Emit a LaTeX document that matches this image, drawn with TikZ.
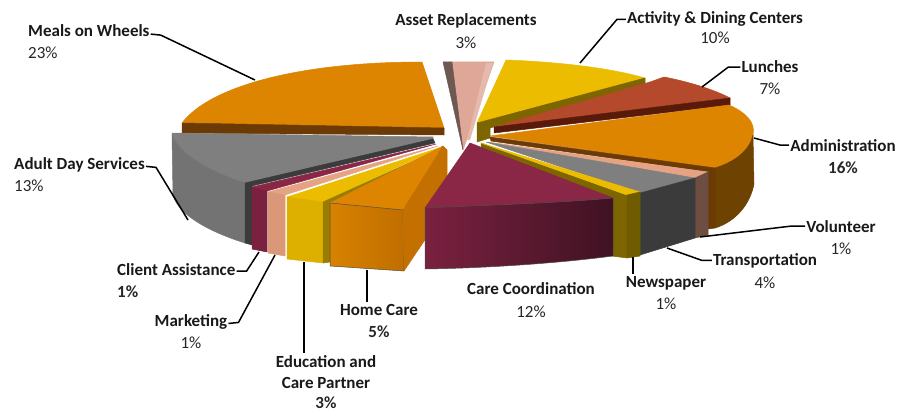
\documentclass[tikz,border=0pt]{standalone}
\usepackage{fontspec}
\setmainfont{Carlito}
\usetikzlibrary{positioning}

\definecolor{orTop}{HTML}{DD8400}
\definecolor{orCut}{HTML}{6B3A05}
\definecolor{orSide}{HTML}{6E4200}
\definecolor{grTop}{HTML}{7F7F7F}
\definecolor{grSide}{HTML}{737373}
\definecolor{grCut}{HTML}{3B3B3B}
\definecolor{mrTop}{HTML}{8A2747}
\definecolor{mrFront}{HTML}{7A2140}
\definecolor{mrDark}{HTML}{3F1222}
\definecolor{pkTop}{HTML}{DFA797}
\definecolor{pkSide}{HTML}{6D5852}
\definecolor{ylTop}{HTML}{ECBC00}
\definecolor{ylFront}{HTML}{DDB000}
\definecolor{olive}{HTML}{7D6600}
\definecolor{rsTop}{HTML}{B44A2B}
\definecolor{rsCut}{HTML}{5A1A0A}
\definecolor{smTop}{HTML}{E6A384}
\definecolor{smFront}{HTML}{DA9878}
\definecolor{brFront}{HTML}{6E4E40}
\definecolor{hcFront}{HTML}{D88200}
\definecolor{hcDark}{HTML}{C06E00}

\tikzset{
  face/.style={draw=black!70, line width=0.5pt, line join=round},
  lbl/.style={font=\fontsize{17}{20}\selectfont\bfseries, inner sep=0pt, text=black!90},
  pct/.style={font=\fontsize{17}{20}\selectfont, inner sep=0pt, text=black!85},
  pctb/.style={pct, font=\fontsize{17}{20}\selectfont\bfseries},
  leader/.style={draw=black, line width=1.5pt},
}

\begin{document}
\begin{tikzpicture}[x=1pt,y=-1pt]
\fill[white] (0,0) rectangle (897,412);
\useasboundingbox (0,0) rectangle (897,412);

% back slices
\fill[face, orTop] (182,123) .. controls (210,86) and (300,62) .. (422,62) -- (444,128) -- cycle;
\fill[face, orCut] (182,123) -- (444,128) -- (444,135) -- (182,133) -- cycle;
\fill[face, pkTop] (452,62) -- (494,62) -- (463,150) -- cycle;
\fill[face, pkSide] (443,62) -- (452,62) -- (463,150) -- cycle;
\fill[pkTop!80!white] (486,63) -- (493,63) -- (470,140) -- (467,140) -- cycle;
\fill[face, ylTop] (477,123) -- (506,60) .. controls (560,62) and (610,68) .. (645,78) -- cycle;
\fill[face, olive] (477,123) -- (645,78) -- (645,86) -- (490,128) -- (490,138) -- (477,142) -- cycle;
\fill[face, rsTop] (494,127) -- (650,82) -- (664,77) .. controls (690,82) and (715,90) .. (730,98) -- cycle;
\fill[face, rsCut] (494,127) -- (730,98) -- (730,105) -- (494,133) -- cycle;
\fill[face, orTop] (490,136) -- (729,105) .. controls (745,112) and (756,122) .. (753,135)
  .. controls (750,150) and (735,162) .. (715,168) -- cycle;
\fill[face, orSide] (715,168) .. controls (735,162) and (750,150) .. (753,135) -- (754,184)
  .. controls (750,205) and (735,222) .. (715,228) -- cycle;
\fill[face, orCut] (490,137) -- (715,168) -- (715,228) -- (708,229) -- (708,172) -- (491,141) -- cycle;
\fill[face, smTop] (488,142) -- (708,172) -- (695,178) -- cycle;
\fill[face, brFront] (695,178) -- (708,172) -- (708,235) -- (695,238) -- cycle;
\fill[face, grTop] (486,142) -- (695,178) -- (640,193) -- cycle;
\fill[face, grCut] (640,193) -- (695,178) -- (695,238) -- (640,255) -- cycle;
\fill[face, olive] (481,143) -- (627,195) -- (627,258) -- (612,256) -- (612,198) -- (481,148) -- cycle;
\fill[face, ylTop] (481,143) -- (640,192) -- (627,195) -- cycle;
\fill[face, olive!90!black] (627,195) -- (640,192) -- (640,256) -- (627,258) -- cycle;

% left group
\fill[face, grTop] (172,133) -- (433,137) -- (433,140) -- (245,183) .. controls (210,172) and (180,155) .. (172,135) -- cycle;
\fill[face, grSide] (172,135) .. controls (180,155) and (210,172) .. (245,183) -- (245,243)
  .. controls (210,232) and (178,215) .. (173,195) -- cycle;
\fill[face, grCut] (245,183) -- (433,139) -- (435,143) -- (252,186) -- (252,245) -- (245,243) -- cycle;
\fill[face, mrTop] (252,187) -- (436,144) -- (267,191) -- cycle;
\fill[face, mrFront] (252,187) -- (267,191) -- (267,252) -- (252,249) -- cycle;
\fill[face, smTop] (268,192) -- (438,146) -- (285,195) -- cycle;
\fill[face, smFront] (268,192) -- (285,195) -- (285,256) -- (268,253) -- cycle;
\fill[face, ylTop] (287,197) -- (439,148) -- (323,202) -- cycle;
\fill[face, ylFront] (287,197) -- (323,202) -- (323,263) -- (287,259) -- cycle;
\fill[face, olive!70!ylFront] (323,202) -- (440,149) -- (442,152) -- (330,203) -- (330,262) -- (323,263) -- cycle;
\fill[face, orTop] (330,203) -- (443,146) -- (403,210) -- cycle;
\shade[face, left color=hcFront, right color=hcDark] (330,203) -- (403,210) -- (404,271) -- (330,266) -- cycle;
\fill[face, hcDark!90!orTop] (403,210) -- (443,146) -- (447,150) -- (447,207) -- (404,271) -- cycle;

% care coordination
\fill[face, mrTop] (470,143) -- (425,208) .. controls (490,205) and (560,203) .. (613,198) -- cycle;
\shade[face, left color=mrFront, right color=mrDark] (425,208) .. controls (490,205) and (560,203) .. (613,198)
  -- (613,256) .. controls (560,263) and (490,268) .. (425,269) -- cycle;

% points on the pie
\coordinate (mealsPt) at (255,80);
\coordinate (adultPt) at (188,220);
\coordinate (clientPt) at (259,252);
\coordinate (mktPt) at (275,255);
\coordinate (eduPt) at (304,262);
\coordinate (homePt) at (367,270);
\coordinate (newsPt) at (633,257);
\coordinate (transPt) at (667,248);
\coordinate (volPt) at (700,237);
\coordinate (adminPt) at (754,138);
\coordinate (lunchPt) at (702,87);
\coordinate (actPt) at (580,63);

% labels
\node[lbl, anchor=base west] (meals) at (28,37) {Meals on Wheels};
\node[pct, anchor=base west] (mealsV) at ([yshift=-22pt]meals.base west) {23\%};
\node[lbl, anchor=base west] (adult) at (14,169) {Adult Day Services};
\node[pct, anchor=base west] (adultV) at ([yshift=-22pt]adult.base west) {13\%};
\node[lbl, anchor=base west] (client) at (117,275) {Client Assistance};
\node[pctb, anchor=base west] (clientV) at ([yshift=-22pt]client.base west) {1\%};
\node[lbl, anchor=base] (mkt) at (191,326) {Marketing};
\node[pct, anchor=base] (mktV) at ([yshift=-22pt]mkt.base) {1\%};
\node[lbl, anchor=base] (edu) at (326,367) {Education and};
\node[lbl, anchor=base] (edu2) at ([yshift=-21pt]edu.base) {Care Partner};
\node[pctb, anchor=base] (eduV) at ([yshift=-20pt]edu2.base) {3\%};
\node[lbl, anchor=base] (home) at (379,315) {Home Care};
\node[pctb, anchor=base] (homeV) at ([yshift=-22pt]home.base) {5\%};
\node[lbl, anchor=base] (care) at (531,294) {Care Coordination};
\node[pct, anchor=base] (careV) at ([yshift=-23pt]care.base) {12\%};
\node[lbl, anchor=base] (news) at (666,287) {Newspaper};
\node[pct, anchor=base] (newsV) at ([yshift=-22pt]news.base) {1\%};
\node[lbl, anchor=base] (trans) at (765,265) {Transportation};
\node[pct, anchor=base] (transV) at ([yshift=-23pt]trans.base) {4\%};
\node[lbl, anchor=base] (vol) at (841,232) {Volunteer};
\node[pct, anchor=base] (volV) at ([yshift=-22pt]vol.base) {1\%};
\node[lbl, anchor=base] (admin) at (843,151) {Administration};
\node[pctb, anchor=base] (adminV) at ([yshift=-22pt]admin.base) {16\%};
\node[lbl, anchor=base] (lunch) at (770,73) {Lunches};
\node[pct, anchor=base] (lunchV) at ([yshift=-22pt]lunch.base) {7\%};
\node[lbl, anchor=base] (act) at (715,24) {Activity \& Dining Centers};
\node[pct, anchor=base] (actV) at ([yshift=-20pt]act.base) {10\%};
\node[lbl, anchor=base] (asset) at (466,26) {Asset Replacements};
\node[pct, anchor=base] (assetV) at ([yshift=-23pt]asset.base) {3\%};

% leaders
\draw[leader] ([xshift=1pt,yshift=-3pt]meals.east) -- ++(10,1) -- (mealsPt);
\draw[leader] ([xshift=1pt,yshift=-2pt]adult.east) -- ++(10,1) -- (adultPt);
\draw[leader] ([xshift=1pt,yshift=-2pt]client.east) -- ++(10,0) -- (clientPt);
\draw[leader] ([xshift=1pt,yshift=-2pt]mkt.east) -- ++(10,-1) -- (mktPt);
\draw[leader] ([yshift=2pt]eduPt |- edu.north) -- (eduPt);
\draw[leader] ([yshift=2pt]homePt |- home.north) -- (homePt);
\draw[leader] ([yshift=2pt]newsPt |- news.north) -- (newsPt);
\draw[leader] ([xshift=-1pt]trans.west) -- ++(-10,0) -- (transPt);
\draw[leader] ([xshift=-1pt]vol.west) -- ++(-14,0) -- (volPt);
\draw[leader] ([xshift=-1pt]admin.west) -- ++(-9,0) -- (adminPt);
\draw[leader] ([xshift=-1pt]lunch.west) -- ++(-12,0) -- (lunchPt);
\draw[leader] ([xshift=-1pt]act.west) -- ++(-9,0) -- (actPt);
\end{tikzpicture}
\end{document}
